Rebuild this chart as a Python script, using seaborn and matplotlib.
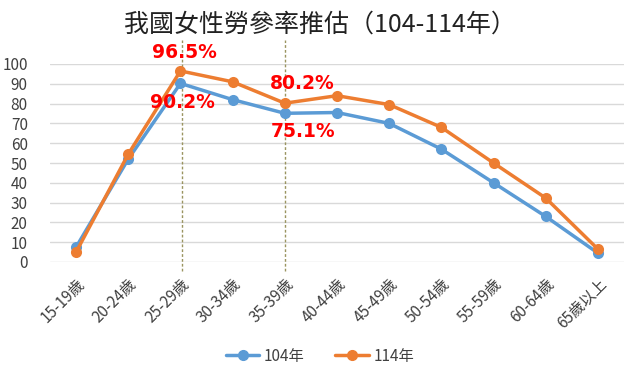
import pandas as pd
import numpy as np
import seaborn as sns
import matplotlib.pyplot as plt
from matplotlib.lines import Line2D

# ----------------- Data -----------------
age_groups = ["15-19歲", "20-24歲", "25-29歲", "30-34歲", "35-39歲", "40-44歲",
              "45-49歲", "50-54歲", "55-59歲", "60-64歲", "65歲以上"]
rate_104 = [7.5, 52.0, 90.2, 82.0, 75.1, 75.5, 70.0, 57.0, 40.0, 23.0, 4.5]
rate_114 = [5.0, 54.5, 96.5, 91.0, 80.2, 84.0, 79.5, 68.0, 50.0, 32.3, 6.5]
series_names = ["104年", "114年"]
palette = ["#5B9BD5", "#ED7D31"]

df = pd.DataFrame({
    "age": age_groups * 2,
    "pos": list(range(len(age_groups))) * 2,
    "rate": rate_104 + rate_114,
    "year": [series_names[0]] * len(age_groups) + [series_names[1]] * len(age_groups),
})

# ----------------- Plot -----------------
sns.set_style("white")
plt.rcParams['font.family'] = ['Noto Sans CJK TC', 'DejaVu Sans']

fig = plt.figure(figsize=(6.4, 3.82), dpi=100)
ax = fig.add_axes([50 / 640, 1 - 262 / 382, 574 / 640, 198 / 382])

sns.lineplot(data=df, x="pos", y="rate", hue="year", palette=palette,
             marker="o", markersize=8, markeredgewidth=0, linewidth=2.5,
             ax=ax, legend=False, clip_on=False)

ax.set_xlim(-0.5, len(age_groups) - 0.5)
ax.set_ylim(0, 100)
ax.set_yticks(range(0, 101, 10))
ax.yaxis.grid(True, color="#d9d9d9", linewidth=1)
ax.set_axisbelow(True)
for s in ax.spines.values():
    s.set_visible(False)
ax.set_xticks(range(len(age_groups)))
ax.set_xticklabels(age_groups, rotation=45, ha="right", rotation_mode="anchor")
ax.tick_params(axis="both", length=0, labelsize=11, colors="#404040")
ax.tick_params(axis="y", pad=16)
ax.tick_params(axis="x", pad=10)
ax.set_xlabel("")
ax.set_ylabel("")

# dashed marker lines
for xv in [2.03, 4.0]:
    ax.plot([xv, xv], [-4.5, 112], color="#9a9460",
            linestyle=(0, (2, 1.5)), linewidth=1.0, clip_on=False, zorder=1)

# annotations
for x, y, t in [(2.07, 106, "96.5%"), (2.03, 80.5, "90.2%"),
                (4.33, 90, "80.2%"), (4.35, 66, "75.1%")]:
    ax.text(x, y, t, color="red", fontsize=13.5, fontweight="bold",
            ha="center", va="center", family=['DejaVu Sans'])

fig.text(0.5, 1 - 25 / 382, "我國女性勞參率推估（104-114年）", ha="center",
         va="center", fontsize=18, color="#222222")

# legend
handles = [Line2D([], [], color=c, marker="o", linewidth=2.5, markersize=7)
           for c in palette]
fig.legend(handles, series_names, loc="center", bbox_to_anchor=(0.5, 1 - 356 / 382),
           ncol=2, frameon=False, fontsize=11, handlelength=2.2, handletextpad=0.3,
           columnspacing=2, labelcolor="#404040")

fig.savefig("out.png", dpi=100)
